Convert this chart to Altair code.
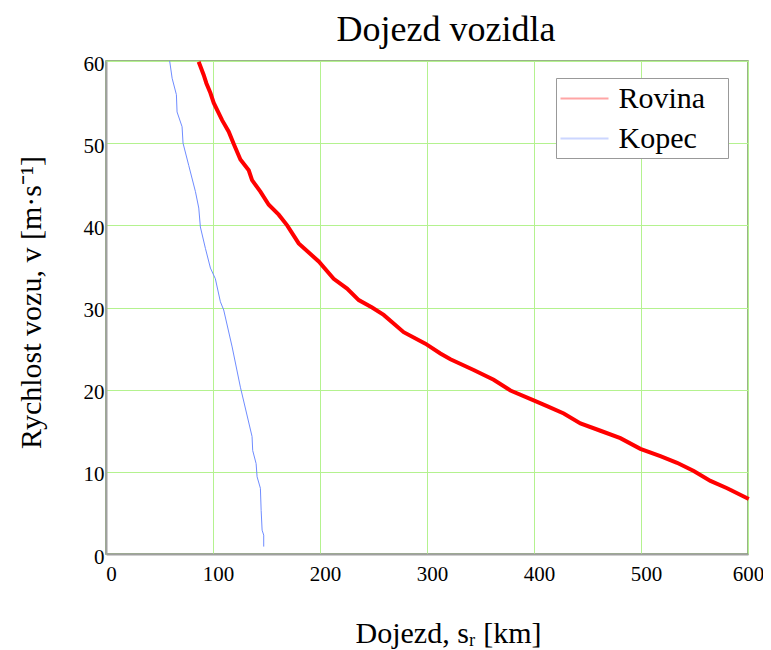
import altair as alt
import pandas as pd

# Rovina (flat road): distance [km] vs speed [m/s]
rovina_s = [86.6, 91.3, 93.8, 97.6, 100.7, 108.5, 114.7, 119.4, 125.6, 133.4, 136.5, 144.3,
            152.1, 161.4, 169.3, 180.1, 198.8, 212.8, 225.3, 236.2, 248.7, 259.5, 278.2,
            298.5, 312.5, 321.9, 343.6, 362.3, 378.0, 399.7, 412.2, 427.8, 443.4, 462.1,
            480.7, 499.4, 518.1, 533.7, 549.3, 564.9, 580.5, 600.7]
rovina_v = [59.9, 58.3, 57.3, 56.1, 54.9, 52.8, 51.4, 49.9, 48.0, 46.7, 45.5, 44.1,
            42.5, 41.3, 40.0, 37.8, 35.6, 33.5, 32.3, 30.9, 30.0, 29.1, 27.0,
            25.6, 24.4, 23.7, 22.4, 21.2, 19.9, 18.7, 18.0, 17.1, 15.9, 15.0,
            14.1, 12.8, 11.9, 11.1, 10.1, 8.9, 8.0, 6.7]

# Kopec (hill)
kopec_s = [59.5, 61.8, 65.8, 66.4, 71.1, 72.0, 77.3, 83.6, 86.7, 88.2, 92.9, 97.6, 102.2,
           106.9, 110.0, 117.9, 125.6, 136.5, 137.1, 140.3, 141.2, 144.3, 145.0, 145.9,
           147.4, 147.4]
kopec_v = [60.0, 57.9, 55.9, 53.8, 52.0, 50.0, 47.3, 44.1, 42.1, 39.8, 37.2, 34.8, 33.5,
           30.7, 29.7, 25.2, 20.3, 14.3, 12.6, 11.0, 9.4, 8.0, 5.3, 2.9, 2.3, 0.9]

series_names = ["Rovina", "Kopec"]
series_colors = ["#ff0000", "#6f8cff"]

rows = []
for i, (s, v) in enumerate(zip(rovina_s, rovina_v)):
    rows.append({"s": s, "v": v, "serie": "Rovina", "i": i})
for i, (s, v) in enumerate(zip(kopec_s, kopec_v)):
    rows.append({"s": s, "v": v, "serie": "Kopec", "i": i})
df = pd.DataFrame(rows)

FONT = "Liberation Serif"
GRID = "#b4f28f"

x_enc = alt.X("s:Q",
              scale=alt.Scale(domain=[0, 600], nice=False),
              axis=alt.Axis(values=[0, 100, 200, 300, 400, 500, 600],
                            title="Dojezd, sᵣ [km]",
                            titleX=342, titleY=88, titleBaseline="alphabetic",
                            titleAlign="center",
                            labelFont=FONT, labelFontSize=21, labelFlush=False,
                            labelOffset={"condition": {"test": "datum.value == 600", "value": 0},
                                         "value": 5},
                            labelPadding=9))
y_enc = alt.Y("v:Q",
              scale=alt.Scale(domain=[0, 60], nice=False),
              axis=alt.Axis(values=[0, 10, 20, 30, 40, 50, 60],
                            title="Rychlost vozu, v [m·s⁻¹]",
                            titleAngle=-90, titleX=-66, titleY=241,
                            titleBaseline="alphabetic", titleAlign="center",
                            labelFont=FONT, labelFontSize=21, labelFlush=False,
                            labelPadding=2, labelOffset=3))
color_enc = alt.Color("serie:N",
                      scale=alt.Scale(domain=series_names, range=series_colors),
                      legend=alt.Legend(title=None, orient="none",
                                        legendX=450, legendY=17,
                                        symbolType="M-1.6,0H1.6", symbolSize=900,
                                        symbolOffset=8,
                                        symbolStrokeWidth=2, symbolOpacity=0.35,
                                        labelFont=FONT, labelFontSize=30,
                                        labelColor="black", labelOffset=18,
                                        labelExpr="datum.label + '\u00a0\u00a0\u200a\u200b'",
                                        padding=4.5, rowPadding=9,
                                        strokeColor="#999999", fillColor="white"))

base = alt.Chart(df).encode(x=x_enc, y=y_enc, color=color_enc, order="i:Q")

rovina = base.transform_filter(alt.datum.serie == "Rovina").mark_line(strokeWidth=4)
kopec = base.transform_filter(alt.datum.serie == "Kopec").mark_line(strokeWidth=1)

chart = alt.layer(rovina, kopec).properties(
    width=642, height=493,
    title=alt.Title("Dojezd vozidla", font=FONT, fontSize=36, fontWeight="normal",
                    color="black", anchor="middle", dx=19, offset=4),
    autosize=alt.AutoSizeParams(type="none"),
    padding={"left": 98, "top": 53, "right": 15, "bottom": 96},
    background="white",
).configure_axis(
    grid=True, gridColor=GRID, gridWidth=1, gridOpacity=1,
    domainColor="#a0a0a0", domainWidth=2, ticks=False,
    labelFont=FONT, labelFontSize=21, labelColor="black",
    titleFont=FONT, titleFontSize=30, titleFontWeight="normal", titleColor="black",
).configure_view(
    stroke="#7a9a60", strokeWidth=1.5,
)

chart.save("out.html", embed_options={"renderer": "svg", "actions": False})
